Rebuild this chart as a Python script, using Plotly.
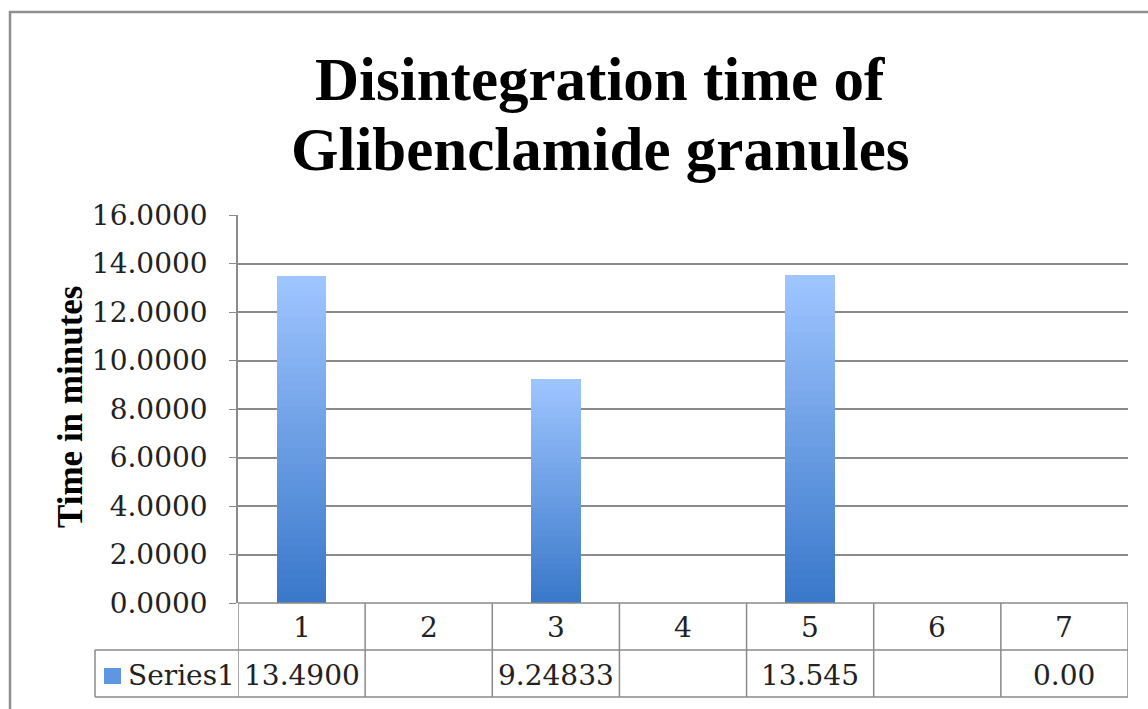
import plotly.graph_objects as go

categories = [1, 2, 3, 4, 5, 6, 7]
disintegration_time = [13.49, None, 9.24833, None, 13.545, None, 0.0]
table_labels = ["13.4900", "", "9.24833", "", "13.545", "", "0.00"]
series_name = "Series1"
title_lines = ["Disintegration time of", "Glibenclamide granules"]
y_title = "Time in minutes"
y_ticks = [0, 2, 4, 6, 8, 10, 12, 14, 16]

W, H = 1148, 709
ML, MR, MT, MB = 238, 20, 215, 106
PW, PH = W - ML - MR, H - MT - MB


def px(x):
    return (x - ML) / PW


def py(y):
    return (H - MB - y) / PH


top_rgb = (158, 197, 255)
bot_rgb = (58, 120, 202)
N = 40

fig = go.Figure()
for k in range(N):
    t = k / (N - 1)
    c = tuple(round(bot_rgb[i] + (top_rgb[i] - bot_rgb[i]) * t) for i in range(3))
    fig.add_trace(go.Bar(
        x=categories,
        y=[(v / N) if v else None for v in disintegration_time],
        width=0.39,
        marker=dict(color="rgb(%d,%d,%d)" % c, line=dict(width=0)),
        showlegend=False,
        hoverinfo="skip",
        name=series_name,
    ))

fig.update_layout(
    width=W, height=H,
    barmode="stack",
    bargap=0,
    paper_bgcolor="white",
    plot_bgcolor="white",
    margin=dict(l=ML, r=MR, t=MT, b=MB),
    showlegend=False,
)
num_font = dict(family="DejaVu Serif", size=28, color="#222")
fig.update_xaxes(range=[0.5, 7.5], showticklabels=False, showgrid=False,
                 zeroline=False, ticks="", showline=False)
fig.update_yaxes(range=[0, 16], tickvals=y_ticks, tickformat=".4f",
                 showgrid=True, gridcolor="#8a8a8a", gridwidth=1.5,
                 zeroline=False, showline=True, linecolor="#8a8a8a", linewidth=1.5,
                 ticks="outside", ticklen=7, tickcolor="#8a8a8a",
                 ticklabelstandoff=16, tickfont=num_font)

shapes = []
lc = dict(color="#8a8a8a", width=1.5)
# outer chart border
shapes.append(dict(type="rect", xref="paper", yref="paper", x0=px(10), x1=px(1160),
                   y0=py(740), y1=py(12), line=dict(color="#909090", width=2.5)))
# table lines
y_axis, y_mid, y_bot = py(603), py(650), py(697)
for i in range(len(categories) + 1):
    xb = i + 0.5
    shapes.append(dict(type="line", xref="x", yref="paper", x0=xb, x1=xb,
                       y0=y_bot, y1=y_axis, line=lc))
shapes.append(dict(type="line", xref="paper", yref="paper", x0=px(95), x1=1.0,
                   y0=y_mid, y1=y_mid, line=lc))
shapes.append(dict(type="line", xref="paper", yref="paper", x0=px(95), x1=1.0,
                   y0=y_bot, y1=y_bot, line=lc))
shapes.append(dict(type="line", xref="paper", yref="paper", x0=px(95), x1=px(95),
                   y0=y_bot, y1=y_mid, line=lc))
shapes.append(dict(type="line", xref="paper", yref="paper", x0=0, x1=1.0,
                   y0=y_axis, y1=y_axis, line=lc))
# legend key
shapes.append(dict(type="rect", xref="paper", yref="paper", x0=px(104), x1=px(121),
                   y0=py(684), y1=py(668), line=dict(width=0),
                   fillcolor="rgb(95,150,225)"))
fig.update_layout(shapes=shapes)

ann = []
for c, lab in zip(categories, table_labels):
    ann.append(dict(x=c, xref="x", y=py(627), yref="paper", text=str(c),
                    showarrow=False, font=num_font, xanchor="center", yanchor="middle"))
    ann.append(dict(x=c, xref="x", y=py(675), yref="paper", text=lab,
                    showarrow=False, font=num_font, xanchor="center", yanchor="middle"))
ann.append(dict(x=px(126), xref="paper", y=py(675), yref="paper", text=series_name,
                showarrow=False, font=num_font, xanchor="left", yanchor="middle"))
title_font = dict(family="Liberation Serif", size=61, color="black")
ann.append(dict(x=px(600), xref="paper", y=py(80), yref="paper",
                text="<b>%s</b>" % title_lines[0], showarrow=False, font=title_font,
                xanchor="center", yanchor="middle"))
ann.append(dict(x=px(600), xref="paper", y=py(150), yref="paper",
                text="<b>%s</b>" % title_lines[1], showarrow=False, font=title_font,
                xanchor="center", yanchor="middle"))
ann.append(dict(x=px(70), xref="paper", y=py(407), yref="paper",
                text="<b>%s</b>" % y_title, showarrow=False, textangle=-90,
                font=dict(family="Liberation Serif", size=35, color="black"),
                xanchor="center", yanchor="middle"))
fig.update_layout(annotations=ann)

fig.write_html("out.html", config={"displayModeBar": False},
               post_script="document.body.style.margin='0';")
